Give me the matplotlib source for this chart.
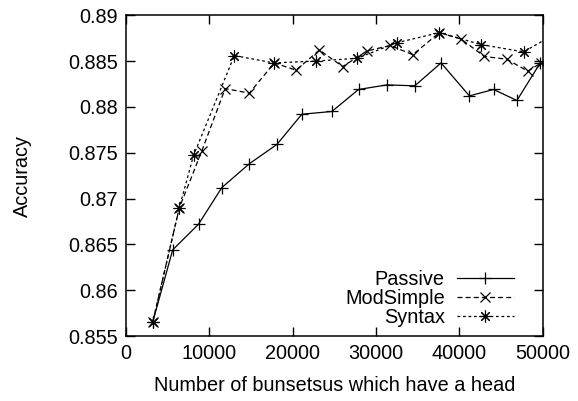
import matplotlib
matplotlib.use("Agg")
import matplotlib.pyplot as plt

plt.rcParams['font.family'] = ['Liberation Sans', 'DejaVu Sans']

passive_x = [3200, 5600, 8700, 11500, 14800, 18100, 21100, 24700, 27900, 31300,
             34650, 37800, 41200, 44100, 46900, 49700]
passive_y = [0.8565, 0.8644, 0.8672, 0.8712, 0.8738, 0.8759, 0.8792, 0.8795, 0.8819,
             0.8824, 0.8823, 0.8848, 0.8812, 0.8819, 0.8807, 0.8848]

modsimple_x = [3200, 6400, 9100, 11900, 14800, 17800, 20400, 23200, 26000, 28900,
               31700, 34400, 37600, 40200, 43000, 45700, 48200, 49800]
modsimple_y = [0.8565, 0.8690, 0.8752, 0.8820, 0.8815, 0.8848, 0.8840, 0.8862, 0.8844,
               0.8861, 0.8867, 0.8857, 0.8881, 0.8874, 0.8855, 0.8852, 0.8839, 0.8848]

syntax_x = [3200, 6400, 8100, 13000, 17700, 22800, 27700, 32500, 37600, 42600, 47700, 52700]
syntax_y = [0.8565, 0.8690, 0.8747, 0.8856, 0.8848, 0.8850, 0.8853, 0.8870, 0.8881,
            0.8868, 0.8860, 0.8886]

xticks = [0, 10000, 20000, 30000, 40000, 50000]
yticks = [0.855, 0.86, 0.865, 0.87, 0.875, 0.88, 0.885, 0.89]
ytick_labels = ['0.855', '0.86', '0.865', '0.87', '0.875', '0.88', '0.885', '0.89']

fs = 14.3

fig = plt.figure(figsize=(5.78, 4.01), dpi=100)
ax = fig.add_axes([0.218, 0.162, 0.721, 0.800])

lw = 0.9
ax.plot(passive_x, passive_y, color='black', lw=lw, linestyle='-',
        marker='+', markersize=9, markeredgewidth=0.9, label='Passive')
ax.plot(modsimple_x, modsimple_y, color='black', lw=lw, linestyle=(0, (4, 2.5)),
        marker='x', markersize=7.5, markeredgewidth=0.9, label='ModSimple')
ax.plot(syntax_x, syntax_y, color='black', lw=lw, linestyle=(0, (2.2, 2.2)),
        marker=(8, 2, 0), markersize=8.5, markeredgewidth=0.8, label='Syntax')

ax.set_xlim(0, 50000)
ax.set_ylim(0.855, 0.89)
ax.set_xticks(xticks)
ax.set_xticklabels([str(t) for t in xticks])
ax.set_yticks(yticks)
ax.set_yticklabels(ytick_labels)

ax.tick_params(direction='in', length=6.5, width=1.0, top=True, right=True,
               labelsize=fs, pad=6)
for s in ax.spines.values():
    s.set_linewidth(1.1)

ax.set_xlabel('Number of bunsetsus which have a head', fontsize=fs, labelpad=9)
ax.set_ylabel('Accuracy', fontsize=fs, labelpad=26)

leg = ax.legend(loc='lower right', frameon=False, markerfirst=False, fontsize=fs,
                handlelength=2.9, handletextpad=0.6, labelspacing=0.0,
                borderaxespad=0.3, bbox_to_anchor=(0.965, -0.015))
for t in leg.get_texts():
    t.set_ha('right')

fig.savefig('out.png', dpi=100)
